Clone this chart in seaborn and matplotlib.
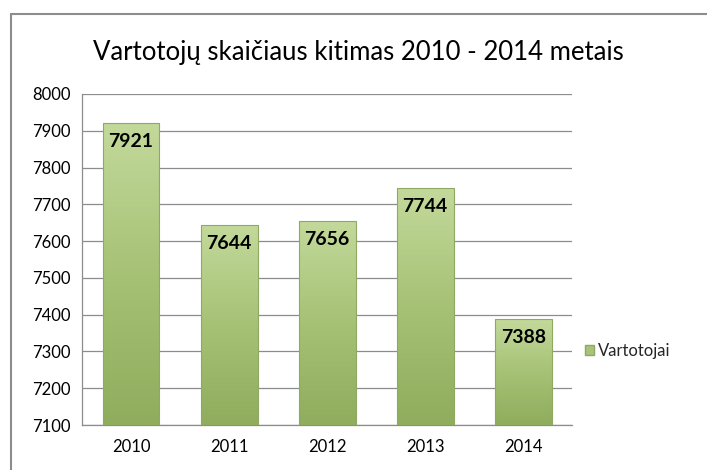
import numpy as np
import pandas as pd
import matplotlib
matplotlib.use("Agg")
import matplotlib.pyplot as plt
import seaborn as sns
from matplotlib.colors import LinearSegmentedColormap
from matplotlib.patches import Patch

years = ["2010", "2011", "2012", "2013", "2014"]
values = [7921, 7644, 7656, 7744, 7388]
series_name = "Vartotojai"
title = "Vartotojų skaičiaus kitimas 2010 - 2014 metais"

sns.set_style("white")
plt.rcParams['font.family'] = ['Lato', 'DejaVu Sans']

df = pd.DataFrame({"Metai": years, "Vartotojai": values})

fig = plt.figure(figsize=(7.07, 4.70), dpi=100)
ax = fig.add_axes([0.1160, 0.0957, 0.6935, 0.7043])

sns.barplot(data=df, x="Metai", y="Vartotojai", ax=ax, color="#a9c47a",
            width=0.58, edgecolor="#8fa863", linewidth=0.8, zorder=3)

ax.set_ylim(7100, 8000)
ax.set_yticks(np.arange(7100, 8001, 100))
ax.set_xlim(-0.5, 4.5)
ax.yaxis.grid(True, color="#8c8c8c", linewidth=0.9, zorder=0)
ax.set_axisbelow(True)
for s in ["top", "right"]:
    ax.spines[s].set_visible(False)
ax.spines["left"].set_color("#8c8c8c")
ax.spines["bottom"].set_color("#8c8c8c")
ax.spines["left"].set_linewidth(0.9)
ax.spines["bottom"].set_linewidth(0.9)
ax.set_xlabel("")
ax.set_ylabel("")
ax.tick_params(axis="both", length=0, labelsize=12, colors="black", pad=8)
ax.tick_params(axis="x", pad=10)

# gradient fill for bars
cmap = LinearSegmentedColormap.from_list("g", ["#8fad5d", "#a6c275", "#c3d99b"])
grad = np.linspace(0, 1, 256).reshape(-1, 1)
for p in ax.patches:
    x0, y0 = p.get_x(), p.get_y()
    w, h = p.get_width(), p.get_height()
    im = ax.imshow(grad, cmap=cmap, origin="lower", aspect="auto",
                   extent=[x0, x0 + w, 7100, y0 + h], zorder=3.5)
    im.set_clip_path(p)
    p.set_facecolor("none")
    p.set_zorder(4)

for i, v in enumerate(values):
    ax.text(i, v - 28, str(v), ha="center", va="top", fontsize=14,
            fontweight="bold", color="black", zorder=5)

fig.text(0.507, 0.888, title, ha="center", va="center", fontsize=18.5, color="black")

leg = ax.legend(handles=[Patch(facecolor="#a9c47a", edgecolor="#8fa863")],
                labels=[series_name], loc="center left",
                bbox_to_anchor=(0.995, 0.225), frameon=False, fontsize=12,
                handlelength=0.55, handleheight=0.55, handletextpad=0.25)

# chart outer border
fig.add_artist(plt.Line2D([11/707, 11/707], [0, 1 - 14/470], color="#8c8c8c",
                          linewidth=1.5, transform=fig.transFigure))
fig.add_artist(plt.Line2D([11/707, 1], [1 - 14/470, 1 - 14/470], color="#8c8c8c",
                          linewidth=1.5, transform=fig.transFigure))

fig.savefig("out.png", dpi=100)
